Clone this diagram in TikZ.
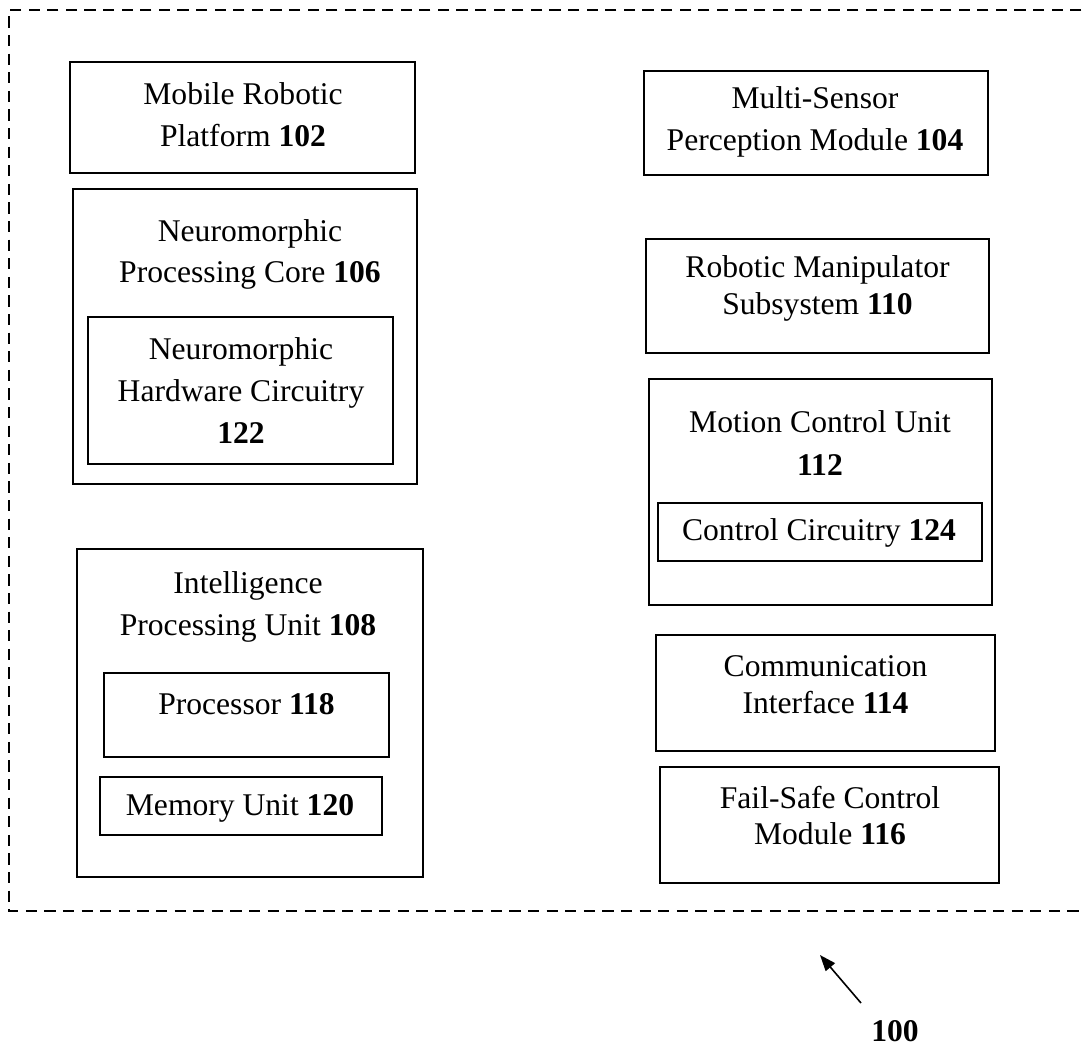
\documentclass[tikz,border=0pt]{standalone}
\usepackage{fontspec}
\setmainfont{Liberation Serif}
\usetikzlibrary{arrows.meta,fit}
\begin{document}
\begin{tikzpicture}[x=0.5pt,y=-0.5pt,
  box/.style={draw,line width=1pt,inner sep=0pt,rectangle},
  txt/.style={font=\fontsize{15.8}{#1}\selectfont,align=center,inner sep=0pt},
  txt/.default=21,
  border/.style={line width=1.1pt,dash pattern=on 5.6pt off 3.7pt},
  pointer/.style={line width=0.8pt,-{Triangle[length=8pt,width=6pt]}}]
\useasboundingbox (0,0) rectangle (1086,1046);
% outer dashed boundary (open on the right)
\coordinate (tr) at (1100,10);
\coordinate (tl) at (9,10);
\coordinate (bl) at (9,911);
\coordinate (br) at (1100,911);
\draw[border] (tr) -- (tl) -- (bl) -- (br);
% left column
\node[box,fit={(70,62) (415,173)}] (b102) {};
\node[txt=21] (t102) at (243,115) {Mobile Robotic\\Platform \textbf{102}};
\node[box,fit={(73,189) (417,484)}] (b106) {};
\node[txt=20.5] (t106) at (250,254) {Neuromorphic\\Processing Core \textbf{106}};
\node[box,fit={(88,317) (393,464)}] (b122) {};
\node[txt=21] (t122) at (241,391) {Neuromorphic\\Hardware Circuitry\\\textbf{122}};
\node[box,fit={(77,549) (423,877)}] (b108) {};
\node[txt=21] (t108) at (248,607) {Intelligence\\Processing Unit \textbf{108}};
\node[box,fit={(104,673) (389,757)}] (b118) {};
\node[txt] (t118) at (246.5,704) {Processor \textbf{118}};
\node[box,fit={(100,777) (382,835)}] (b120) {};
\node[txt] (t120) at (240,808) {Memory Unit \textbf{120}};
% right column
\node[box,fit={(644,71) (988,175)}] (b104) {};
\node[txt=21] (t104) at (815,122) {Multi-Sensor\\Perception Module \textbf{104}};
\node[box,fit={(646,239) (989,353)}] (b110) {};
\node[txt=18.5] (t110) at (817.5,288) {Robotic Manipulator\\Subsystem \textbf{110}};
\node[box,fit={(649,379) (992,605)}] (b112) {};
\node[txt=21.5] (t112) at (820,443) {Motion Control Unit\\\textbf{112}};
\node[box,fit={(658,503) (982,561)}] (b124) {};
\node[txt] (t124) at (819,533) {Control Circuitry \textbf{124}};
\node[box,fit={(656,635) (995,751)}] (b114) {};
\node[txt=18.5] (t114) at (825.5,685) {Communication\\Interface \textbf{114}};
\node[box,fit={(660,767) (999,883)}] (b116) {};
\node[txt=18] (t116) at (830,816) {Fail-Safe Control\\Module \textbf{116}};
% reference numeral
\node[txt] (t100) at (895,1031) {\textbf{100}};
\coordinate (a1) at (861,1003);
\coordinate (a2) at (820,955);
\draw[pointer] (a1) -- (a2);
\end{tikzpicture}
\end{document}
